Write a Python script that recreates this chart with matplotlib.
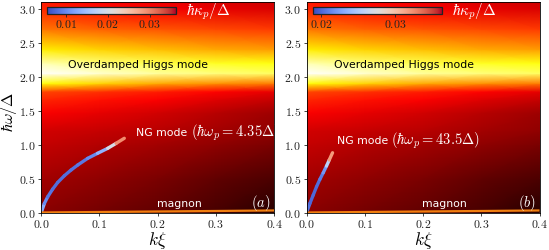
import numpy as np
import matplotlib
matplotlib.use("Agg")
import matplotlib.pyplot as plt
from matplotlib.collections import LineCollection
from matplotlib.colors import Normalize
from matplotlib.cm import ScalarMappable
from matplotlib.ticker import FormatStrFormatter

plt.rcParams['mathtext.fontset'] = 'cm'
plt.rcParams['font.family'] = ['DejaVu Sans']

# ---- background spectral intensity (hot colormap value), rows = omega, cols = k
bg_k = [0.0, 0.1, 0.2, 0.3, 0.4]
bg_omega = [0.0, 0.5, 1.0, 1.2, 1.47, 1.66, 1.78, 1.9, 2.05, 2.2, 2.4, 2.7, 3.0, 3.1]
bg_intensity = [
    [0.19, 0.16, 0.13, 0.09, 0.045],
    [0.23, 0.20, 0.17, 0.13, 0.10],
    [0.28, 0.25, 0.23, 0.20, 0.17],
    [0.30, 0.28, 0.26, 0.23, 0.20],
    [0.36, 0.33, 0.30, 0.26, 0.22],
    [0.42, 0.39, 0.36, 0.32, 0.28],
    [0.47, 0.44, 0.41, 0.37, 0.33],
    [0.75, 0.68, 0.62, 0.58, 0.55],
    [1.00, 0.95, 0.90, 0.87, 0.84],
    [0.92, 0.86, 0.82, 0.78, 0.76],
    [0.72, 0.68, 0.65, 0.62, 0.60],
    [0.54, 0.51, 0.49, 0.47, 0.45],
    [0.42, 0.39, 0.36, 0.33, 0.31],
    [0.40, 0.37, 0.34, 0.31, 0.29],
]

# ---- NG mode, panel (a)
ng_a_k = [0.0012, 0.0058, 0.0115, 0.020, 0.0287, 0.040, 0.0515, 0.063, 0.080,
          0.097, 0.1145, 0.129, 0.143]
ng_a_w = [0.019, 0.133, 0.231, 0.344, 0.443, 0.541, 0.625, 0.699, 0.797,
          0.871, 0.945, 1.019, 1.093]
ng_a_kappa = [0.015, 0.011, 0.009, 0.008, 0.008, 0.008, 0.008, 0.0085, 0.009,
              0.011, 0.016, 0.024, 0.035]
# ---- NG mode, panel (b)
ng_b_k = [0.0012, 0.0058, 0.0115, 0.0172, 0.0229, 0.0287, 0.0343, 0.039, 0.0447]
ng_b_w = [0.024, 0.133, 0.256, 0.379, 0.487, 0.585, 0.684, 0.773, 0.880]
ng_b_kappa = [0.021, 0.020, 0.020, 0.020, 0.0205, 0.021, 0.023, 0.028, 0.036]

# ---- magnon
magnon_k = [0.0, 0.4]
magnon_w = [0.0, 0.03]

cbar_a_range = [0.00555, 0.0363]
cbar_b_range = [0.0189, 0.0364]
cbar_a_ticks = [0.01, 0.02, 0.03]
cbar_b_ticks = [0.02, 0.03]

xticks = [0.0, 0.1, 0.2, 0.3, 0.4]
yticks = [0.0, 0.5, 1.0, 1.5, 2.0, 2.5, 3.0]

fig = plt.figure(figsize=(5.49, 2.5), dpi=100)
W, H = 549, 250
AX_H = 210.5
ax_a = fig.add_axes([41 / W, 1 - 212.5 / H, 233 / W, AX_H / H])
ax_b = fig.add_axes([306.5 / W, 1 - 212.5 / H, 233 / W, AX_H / H])

KK, WW = np.meshgrid(bg_k, bg_omega)
Z = np.array(bg_intensity)


def panel(ax, ngk, ngw, ngkap, crange, cticks, label, cax_rect, kap_x):
    ax.pcolormesh(KK, WW, Z, cmap='hot', vmin=0, vmax=1, shading='gouraud',
                  rasterized=True)
    norm = Normalize(crange[0], crange[1])
    pts = np.column_stack([ngk, ngw]).reshape(-1, 1, 2)
    segs = np.concatenate([pts[:-1], pts[1:]], axis=1)
    segc = 0.5 * (np.array(ngkap[:-1]) + np.array(ngkap[1:]))
    lc = LineCollection(segs, cmap='coolwarm', norm=norm, linewidths=2.4,
                        capstyle='round', joinstyle='round')
    lc.set_array(segc)
    ax.add_collection(lc)
    ax.plot(magnon_k, magnon_w, color='#f07f10', lw=1.6, solid_capstyle='butt')
    ax.set_xlim(0, 0.4)
    ax.set_ylim(0, 3.1)
    ax.set_xticks(xticks)
    ax.set_yticks(yticks)
    ax.xaxis.set_major_formatter(FormatStrFormatter(r'$%.1f$'))
    ax.yaxis.set_major_formatter(FormatStrFormatter(r'$%.1f$'))
    ax.tick_params(direction='out', length=2.5, width=0.6, labelsize=8.5,
                   pad=1.5, colors='#222222')
    for s in ax.spines.values():
        s.set_linewidth(0.6)
    ax.set_xlabel(r'$k\xi$', fontsize=12.5, va='center')
    ax.xaxis.set_label_coords(0.5, -28 / AX_H)
    ax.text(0.167, 2.17, 'Overdamped Higgs mode', ha='center', va='center',
            fontsize=7.8, color='black')
    ax.text(0.4 - 0.005, 0.14, label, ha='right', va='center', fontsize=10.5,
            color='white')
    ax.text(0.237, 0.13, 'magnon', ha='center', va='center', fontsize=7.8,
            color='white')
    cax = fig.add_axes(cax_rect)
    sm = ScalarMappable(norm=norm, cmap='coolwarm')
    cb = fig.colorbar(sm, cax=cax, orientation='horizontal', ticks=cticks)
    cb.ax.xaxis.set_major_formatter(FormatStrFormatter(r'$%.2f$'))
    cb.ax.tick_params(direction='out', length=2, width=0.6, labelsize=8.5,
                      pad=1, colors='#222222')
    cb.outline.set_linewidth(0.9)
    cb.outline.set_edgecolor('#222222')
    fig.text(kap_x / W, 1 - 12 / H, r'$\hbar\kappa_p/\Delta$', fontsize=11,
             color='white', va='center', ha='left')
    return ax


def ng_label(ax, x, y, math):
    t = ax.text(x, y, 'NG mode', ha='left', va='center', fontsize=7.8,
                color='white')
    ax.annotate(math, xy=(1, 0.5), xycoords=t, xytext=(2.5, 0),
                textcoords='offset points', ha='left', va='center',
                fontsize=10.5, color='white')


panel(ax_a, ng_a_k, ng_a_w, ng_a_kappa, cbar_a_range, cbar_a_ticks, r'$(a)$',
      [47 / W, 1 - 14.3 / H, 129 / W, 7 / H], 186)
panel(ax_b, ng_b_k, ng_b_w, ng_b_kappa, cbar_b_range, cbar_b_ticks, r'$(b)$',
      [313.3 / W, 1 - 14.3 / H, 128.4 / W, 7 / H], 452.5)

ng_label(ax_a, (136 - 41) / 582.5, 1.17, r'$(\hbar\omega_p = 4.35\Delta)$')
ng_label(ax_b, (336.7 - 306.5) / 582.5, 1.06, r'$(\hbar\omega_p = 43.5\Delta)$')

ax_a.set_ylabel(r'$\hbar\omega/\Delta$', fontsize=11.5, va='center')
ax_a.yaxis.set_label_coords(-31.5 / 233, 0.48)

fig.savefig('out.png', dpi=100)
